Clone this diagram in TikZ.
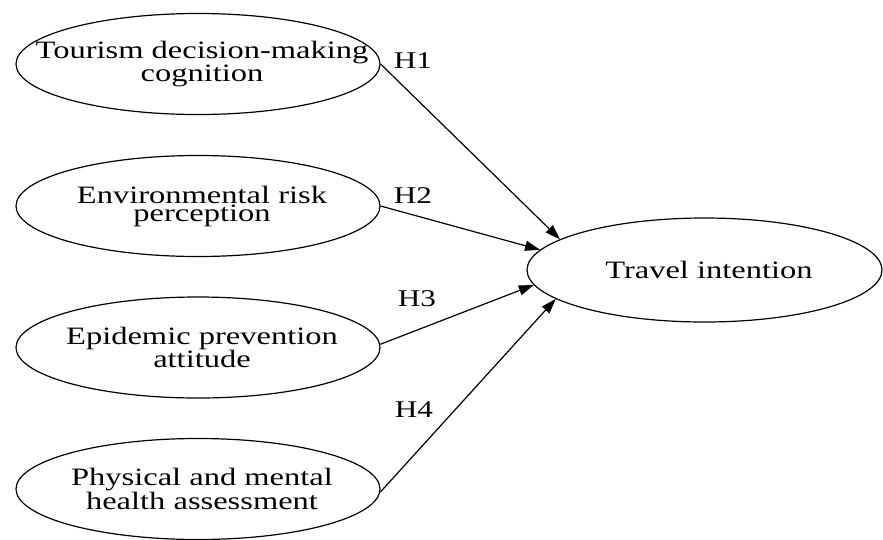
\documentclass[tikz,border=0pt]{standalone}
\usepackage{fontspec}
\setmainfont{Liberation Serif}[FakeStretch=1.3]
\usetikzlibrary{shapes.geometric,arrows.meta}
\begin{document}
\begin{tikzpicture}[x=1pt,y=-1pt,
  construct/.style={ellipse, draw, line width=1.2pt, inner sep=0pt,
    minimum width=364pt, minimum height=101pt},
  outcome/.style={construct, minimum width=355pt, minimum height=104pt},
  ctext/.style={inner sep=0pt, align=center, font=\fontsize{25}{18}\selectfont},
  link/.style={line width=1.2pt, -{Triangle[length=15pt,width=10pt]}},
  hyp/.style={inner sep=0pt, font=\fontsize{24}{18}\selectfont}]
\useasboundingbox (0,0) rectangle (883,539);

% predictor constructs
\node[construct] (e1) at (198,64) {};
\node[construct] (e2) at (198,206) {};
\node[construct] (e3) at (198,347.5) {};
\node[construct] (e4) at (198,489) {};
% outcome construct
\node[outcome] (t) at (704.5,270) {};

\node[ctext] (e1t) at (202,64) {Tourism decision-making\\cognition};
\node[ctext] (e2t) at (202,206) {Environmental risk\\perception};
\node[ctext] (e3t) at (202,347.5) {Epidemic prevention\\attitude};
\node[ctext] (e4t) at (202,489) {Physical and mental\\health assessment};
\node[ctext] (tt) at (709,270) {Travel intention};

% hypothesised paths
\draw[link] (e1.0) -- (t.168.2);
\draw[link] (e2.-0.9) -- (t.173.85);
\draw[link] (e3.1.6) -- (t.185.8);
\draw[link] (e4.-1.3) -- (t.191.8);

\node[hyp] (h1) at (413,61) {H1};
\node[hyp] (h2) at (413,195.5) {H2};
\node[hyp] (h3) at (417,299) {H3};
\node[hyp] (h4) at (414,410) {H4};
\end{tikzpicture}
\end{document}
